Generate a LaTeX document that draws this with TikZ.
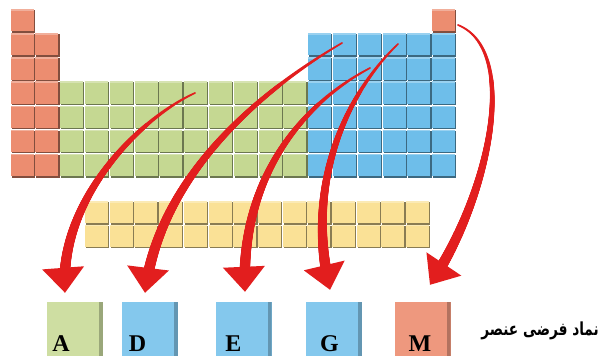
\documentclass[tikz,border=0pt]{standalone}
\usepackage{fontspec}
\usepackage{xcolor}
\usepackage{tikz}
\usetikzlibrary{decorations.markings,calc}
\newfontfamily\arabicfont[Script=Arabic,BoldFont={DejaVu Sans Bold}]{DejaVu Sans}
\newfontfamily\letterfont{Liberation Serif}
\TeXXeTstate=1
\definecolor{salmon}{RGB}{236,141,112}
\definecolor{leaf}{RGB}{197,216,146}
\definecolor{sky}{RGB}{110,190,234}
\definecolor{sand}{RGB}{250,225,150}
\definecolor{arrowred}{RGB}{226,30,30}
\tikzset{
	pics/cell/.style={
			code={
					\fill[#1!55!black] (1,1) rectangle (24.3,23.6);
					\fill[#1] (0,0) rectangle (23,22.3);
					\fill[white,opacity=0.3] (0,0) rectangle (23,1.5);
				}
		},
	elbox/.style={
			rectangle,
			fill            = #1,
			minimum width   = 56pt,
			minimum height  = 54pt,
			inner sep       = 0pt,
			path picture    = {
					\fill[#1!75!black] ([xshift=-4pt]path picture bounding box.north east) rectangle (path picture bounding box.south east);
				}
		},
	letter/.style = {
			anchor=base,
			inner sep=0pt,
			font=\letterfont\bfseries\fontsize{24}{24}\selectfont
		},
	taper/.style = {
			postaction={decorate, decoration={markings,
					mark=between positions 0 and -18pt step 0.5pt with {
							\pgfmathsetmacro\tprad{0.9+4.8*\pgfkeysvalueof{/pgf/decoration/mark info/distance from start}/\pgfdecoratedpathlength}
							\fill[arrowred] (0,0) circle[radius=\tprad pt];
						}}},
			postaction={decorate, decoration={markings,
					mark=at position 0.9999 with {
							\fill[arrowred] (0pt,0pt) -- (-25pt,21pt) -- (-25pt,-21pt) -- cycle;
						}}}
		}
}

\begin{document}
\begin{tikzpicture}[x=1pt,y=-1pt]
	\fill[white] (0,0) rectangle (600,356);
	\useasboundingbox (0,0) rectangle (600,356);

	% s-block (left columns and the top right cell)
	\foreach \r in {1,...,7}
		\pic at (10.5,{9+(\r-1)*24.15}) {cell=salmon};
	\foreach \r in {2,...,7}
		\pic at (35.3,{9+(\r-1)*24.15}) {cell=salmon};
	\pic at ({10.5+17*24.8},9) {cell=salmon};

	% d-block
	\foreach \c in {3,...,12}
		\foreach \r in {4,...,7}
			\pic at ({10.5+(\c-1)*24.8},{9+(\r-1)*24.15}) {cell=leaf};

	% p-block
	\foreach \c in {13,...,18}
		\foreach \r in {2,...,7}
			\pic at ({10.5+(\c-1)*24.8},{9+(\r-1)*24.15}) {cell=sky};

	% f-block
	\foreach \c in {0,...,13}
		\foreach \r in {0,1}
			\pic at ({85+\c*24.7},{201+\r*23.5}) {cell=sand};

	% Hypothetical element boxes
	\node[elbox=leaf!85!white]   (A) at (75,329)    {};
	\node[elbox=sky!85!white]    (D) at (150,329)   {};
	\node[elbox=sky!85!white]    (E) at (243.5,329) {};
	\node[elbox=sky!85!white]    (G) at (334,329)   {};
	\node[elbox=salmon!90!white] (M) at (422.5,329) {};

	\node[letter] (lA) at (61,351)    {A};
	\node[letter] (lD) at (137.5,351) {D};
	\node[letter] (lE) at (233.5,351) {E};
	\node[letter] (lG) at (329.5,351) {G};
	\node[letter] (lM) at (420,351)   {M};

	\node[anchor=base east, inner sep=0pt, font=\arabicfont\bfseries\fontsize{18}{18}\selectfont] (caption) at (599,335) {\scalebox{0.76}[1]{\beginR نماد فرضی عنصر\endR}};

	% Arrow ends
	\coordinate (sA) at (195,93);
	\coordinate (sD) at (342,43);
	\coordinate (sE) at (370,68);
	\coordinate (sG) at (398,44);
	\coordinate (sM) at (458,25);
	\coordinate (tA) at ([xshift=-10pt,yshift=9pt]A.north);
	\coordinate (tD) at ([xshift=-5pt,yshift=9pt]D.north);
	\coordinate (tE) at ([xshift=1.5pt,yshift=10pt]E.north);
	\coordinate (tG) at ([xshift=-4pt,yshift=12pt]G.north);
	\coordinate (tM) at ([xshift=7.5pt,yshift=17pt]M.north);

	% Arrows
	\path[taper] (sA) .. controls (140,118) and (58,200) .. (tA);
	\path[taper] (sD) .. controls (270,85) and (160,170) .. (tD);
	\path[taper] (sE) .. controls (300,105) and (240,180) .. (tE);
	\path[taper] (sG) .. controls (345,95) and (305,185) .. (tG);
	\path[taper] (sM) .. controls (520,50) and (490,195) .. (tM);
\end{tikzpicture}
\end{document}
